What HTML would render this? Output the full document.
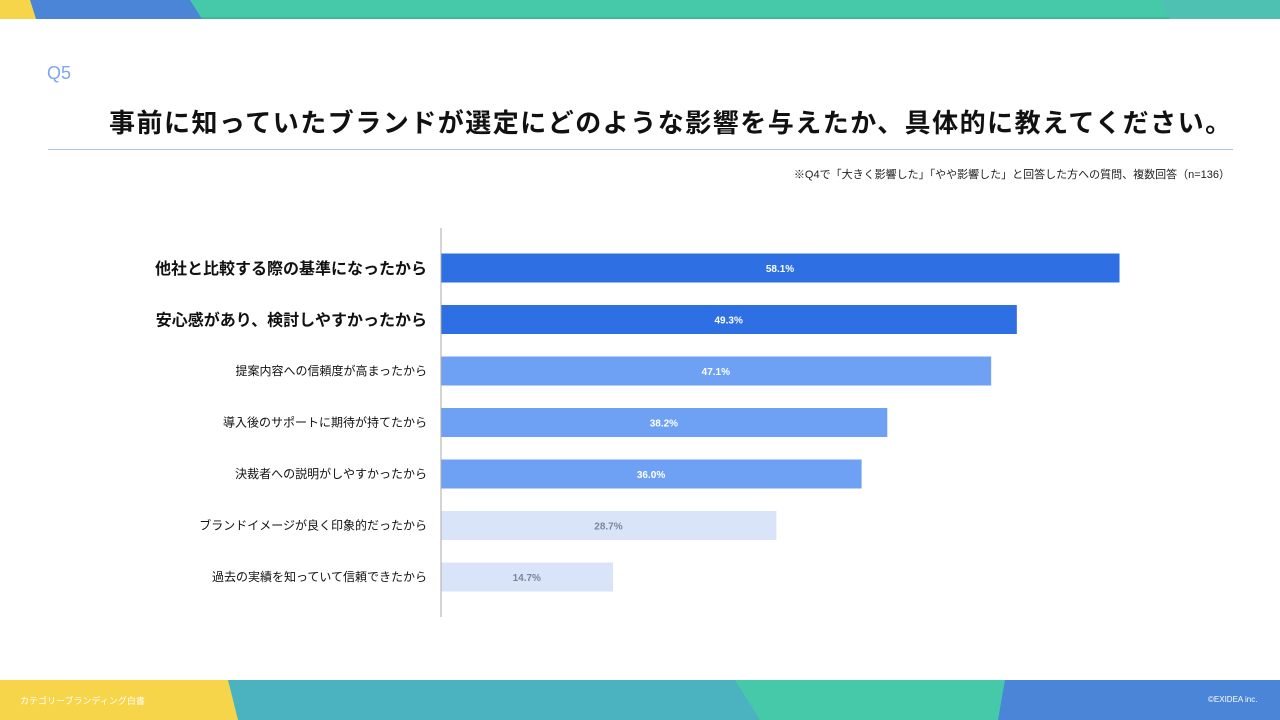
<!DOCTYPE html>
<html><head><meta charset="utf-8"><style>
body{margin:0;width:1280px;height:720px;position:relative;background:#fff;font-family:"Liberation Sans","Noto Sans CJK JP",sans-serif;overflow:hidden}
.abs{position:absolute}
</style></head><body>
<svg class="abs" style="left:0;top:0" width="1280" height="720">
<rect x="0" y="0" width="1280" height="19" fill="#45c9a9"/>
<rect x="0" y="17" width="1280" height="2" fill="#3cb89a"/>
<polygon points="1160,0 1280,0 1280,19 1170,19" fill="#4ec1b3"/>
<polygon points="30,0 190,0 202,19 36,19" fill="#4a85d8"/>
<polygon points="0,0 30,0 36,19 0,19" fill="#f6d54a"/>
<rect x="0" y="680" width="1280" height="40" fill="#45c9a9"/>
<polygon points="228,680 735,680 760,720 238,720" fill="#4bb3bf"/>
<polygon points="0,680 228,680 238,720 0,720" fill="#f6d54a"/>
<polygon points="1005,680 1280,680 1280,720 998,720" fill="#4a85d8"/>
</svg>
<div class="abs" style="left:20px;top:694px;font-size:9px;color:#fff">カテゴリーブランディング白書</div>
<div class="abs" style="left:1208px;top:695px;font-size:8px;color:#fff">©EXIDEA inc.</div>
<div class="abs" style="left:47px;top:63px;font-size:18px;color:#7fa6ee">Q5</div>
<div class="abs" style="left:109px;top:103px;font-size:26px;font-weight:bold;color:#111;letter-spacing:1.5px">事前に知っていたブランドが選定にどのような影響を与えたか、具体的に教えてください。</div>
<div class="abs" style="left:48px;top:149px;width:1185px;height:1px;background:#a9c3ee"></div>
<div class="abs" style="right:50px;top:166px;font-size:11px;color:#222">※Q4で「大きく影響した」「やや影響した」と回答した方への質問、複数回答（n=136）</div>
<svg class="abs" id="chart" style="left:0;top:0" width="1280" height="720"></svg>
<script>
const categories=["他社と比較する際の基準になったから","安心感があり、検討しやすかったから","提案内容への信頼度が高まったから","導入後のサポートに期待が持てたから","決裁者への説明がしやすかったから","ブランドイメージが良く印象的だったから","過去の実績を知っていて信頼できたから"];
const values=[58.1,49.3,47.1,38.2,36.0,28.7,14.7];
const tiers=[0,0,1,1,1,2,2];
const NS="http://www.w3.org/2000/svg";
const svg=document.getElementById('chart');
const x0=441,pxPer=11.67,y0=268,step=51.5,bh=29;
const xs=v=>v*pxPer;
const ys=i=>y0+i*step;
const fills=["#2f6fe4","#6ea1f3","#d9e4f8"];
const lblFill=["#fff","#fff","#7a8699"];
const ax=document.createElementNS(NS,'line');


ax.setAttribute('x1',x0);ax.setAttribute('x2',x0);ax.setAttribute('y1',228);ax.setAttribute('y2',617);
ax.setAttribute('stroke','#aaa');ax.setAttribute('stroke-width','1');
svg.appendChild(ax);
categories.forEach((c,i)=>{
 const r=document.createElementNS(NS,'rect');
 
 
 r.setAttribute('x',x0+0.5);r.setAttribute('y',ys(i)-bh/2);r.setAttribute('width',xs(values[i]));r.setAttribute('height',bh);
 r.setAttribute('fill',fills[tiers[i]]);svg.appendChild(r);
 const t=document.createElementNS(NS,'text');
 
 
 t.setAttribute('x',x0+xs(values[i])/2);t.setAttribute('y',ys(i)+4);t.setAttribute('text-anchor','middle');
 t.setAttribute('font-size','10');t.setAttribute('font-weight','bold');t.setAttribute('fill',lblFill[tiers[i]]);
 t.textContent=values[i].toFixed(1)+'%';svg.appendChild(t);
 const l=document.createElementNS(NS,'text');
 
 
 l.setAttribute('x',427);l.setAttribute('y',ys(i)+(tiers[i]==0?6:4));l.setAttribute('text-anchor','end');
 l.setAttribute('font-size',tiers[i]==0?'16':'12');l.setAttribute('font-weight',tiers[i]==0?'bold':'normal');l.setAttribute('fill','#111');
 l.textContent=c;svg.appendChild(l);
});
</script>
</body></html>
